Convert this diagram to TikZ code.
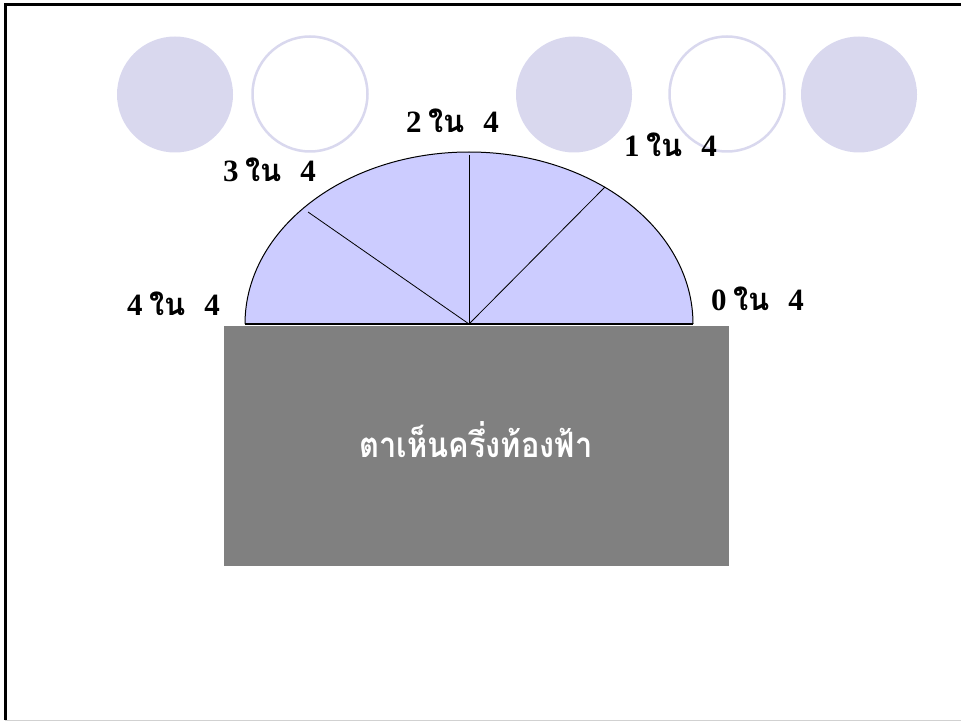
\documentclass[tikz,border=0pt]{standalone}
\usepackage{fontspec}
\setmainfont{Liberation Serif}
\newfontfamily\thaifont[Script=Thai]{Loma}
\newfontfamily\numfont{Liberation Serif}
\newcommand\fraclbl[1]{{\numfont\bfseries #1}\hspace{0.22em}{\thaifont\bfseries ใน}\hspace{0.6em}{\numfont\bfseries 4}}
\definecolor{dotcol}{RGB}{217,216,238}
\definecolor{domecol}{RGB}{204,204,255}
\definecolor{boxcol}{RGB}{128,128,128}
\begin{document}
\begin{tikzpicture}[x=1pt,y=-1pt,
  fulldot/.style={fill=dotcol,draw=none},
  ringdot/.style={draw=dotcol,line width=2.5pt,fill=white},
  lbl/.style={anchor=base west,inner sep=0pt,font=\fontsize{31}{31}\selectfont},
  ray/.style={draw=black,line width=0.8pt}]
\useasboundingbox (0,0) rectangle (961,722);
% frame
\draw[line width=3pt] (5,720) -- (5,5) -- (961,5);
\draw[line width=1pt,draw=black!18] (5,720.5) -- (961,720.5);
% decorative circles
\fill[fulldot] (175,94.5) circle[radius=58];
\draw[ringdot] (310,94) circle[radius=57.5];
\fill[fulldot] (574,94.5) circle[radius=58];
\draw[ringdot] (727,94) circle[radius=57.5];
\fill[fulldot] (859,94.5) circle[radius=58];
% dome
\coordinate (c) at (469,324);
\coordinate (l) at (245,324);
\coordinate (r) at (693,324);
\fill[domecol] (l) arc[start angle=180,end angle=360,x radius=224,y radius=172] -- cycle;
\draw[line width=1pt] (l) arc[start angle=180,end angle=360,x radius=224,y radius=172];
\draw[line width=1.2pt] (l) -- (r);
\coordinate (p2) at (469,155);
\coordinate (p1) at (605,187);
\coordinate (p3) at (308,212);
\draw[ray] (c) -- (p2);
\draw[ray] (c) -- (p1);
\draw[ray] (c) -- (p3);
% ground box
\node[fill=boxcol,minimum width=505pt,minimum height=240pt,inner sep=0pt,anchor=north west] (box) at (224,326) {};
\node[text=white,font=\thaifont\bfseries\fontsize{35}{35}\selectfont,anchor=base,xscale=0.88] (boxtxt) at (476,457) {ตาเห็นครึ่งท้องฟ้า};
% labels
\node[lbl] (l2) at (406,133) {\fraclbl{2}};
\node[lbl] (l3) at (223,182) {\fraclbl{3}};
\node[lbl] (l1) at (624,157) {\fraclbl{1}};
\node[lbl] (l4) at (127,315) {\fraclbl{4}};
\node[lbl] (l0) at (711,310) {\fraclbl{0}};
\end{tikzpicture}
\end{document}
